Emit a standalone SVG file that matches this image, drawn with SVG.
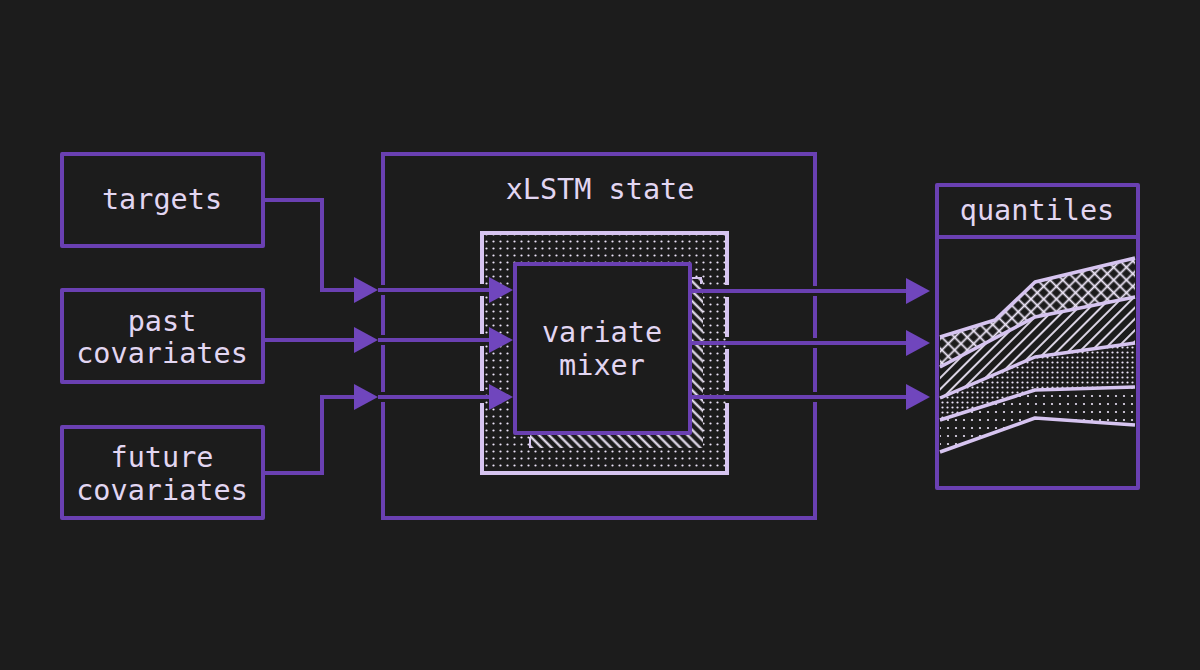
<svg xmlns="http://www.w3.org/2000/svg" width="1200" height="670" viewBox="0 0 1200 670">
<defs>
<style>
.box{fill:#1c1c1c;stroke:#6a40b2;stroke-width:4;stroke-linejoin:round}
.edge{fill:none;stroke:#6a40b2;stroke-width:4;stroke-linecap:butt}
.lav{fill:none;stroke:#d6c4f0;stroke-width:4}
.qline{fill:none;stroke:#d6c4f0;stroke-width:3.5;stroke-linejoin:round}
.conn{fill:none;stroke:#6a40b2;stroke-width:4;stroke-linejoin:miter}
.lbl{font-family:"DejaVu Sans Mono","Liberation Mono",monospace;font-size:28.5px;fill:#e2d6f2;text-anchor:middle}
</style>
<marker id="ah" markerUnits="userSpaceOnUse" viewBox="0 0 24 26" markerWidth="24" markerHeight="26" refX="14" refY="13" orient="auto">
<path d="M0,0 L24,13 L0,26 Z" fill="#7046bd"/>
</marker>
<pattern id="dots" patternUnits="userSpaceOnUse" width="7" height="7">
<rect width="7" height="7" fill="#1c1c1c"/>
<circle cx="3.5" cy="3.5" r="1.1" fill="#ece4f8"/>
</pattern>
<pattern id="dotsDense" patternUnits="userSpaceOnUse" width="5" height="5">
<rect width="5" height="5" fill="#1c1c1c"/>
<circle cx="2.5" cy="2.5" r="1.1" fill="#ece4f8"/>
</pattern>
<pattern id="dotsSparse" patternUnits="userSpaceOnUse" width="8" height="8">
<rect width="8" height="8" fill="#1c1c1c"/>
<circle cx="4" cy="4" r="1.1" fill="#ece4f8"/>
</pattern>
<pattern id="hatchBack" patternUnits="userSpaceOnUse" width="7" height="7" patternTransform="rotate(-45)">
<rect width="7" height="7" fill="#1c1c1c"/>
<line x1="3.5" y1="0" x2="3.5" y2="7" stroke="#f0e8fa" stroke-width="2.2"/>
</pattern>
<pattern id="hatchFwd" patternUnits="userSpaceOnUse" width="8" height="8" patternTransform="rotate(45)">
<rect width="8" height="8" fill="#1c1c1c"/>
<line x1="4" y1="0" x2="4" y2="8" stroke="#f0e8fa" stroke-width="1.8"/>
</pattern>
<pattern id="cross" patternUnits="userSpaceOnUse" width="9" height="9" patternTransform="rotate(45)">
<rect width="9" height="9" fill="#1c1c1c"/>
<line x1="4.5" y1="0" x2="4.5" y2="9" stroke="#f0e8fa" stroke-width="1.8"/>
<line x1="0" y1="4.5" x2="9" y2="4.5" stroke="#f0e8fa" stroke-width="1.8"/>
</pattern>
</defs>
<rect width="1200" height="670" fill="#1c1c1c"/>

<g id="targets">
<rect class="box" x="62" y="154" width="201" height="92"/>
<text class="lbl" x="162" y="209">targets</text>
</g>
<g id="past-covariates">
<rect class="box" x="62" y="290" width="201" height="92"/>
<text class="lbl" x="162" y="331">past</text>
<text class="lbl" x="162" y="363">covariates</text>
</g>
<g id="future-covariates">
<rect class="box" x="62" y="427" width="201" height="91"/>
<text class="lbl" x="162" y="467">future</text>
<text class="lbl" x="162" y="500">covariates</text>
</g>

<g id="xlstm-state">
<path class="edge" d="M381,154 H817 M381,518 H817 M383,152 V285 M383,295 V335 M383,345 V392 M383,402 V520 M815,152 V286 M815,296 V338 M815,348 V392 M815,402 V520"/>
<text class="lbl" x="600" y="199">xLSTM state</text>
<g id="state-inner">
<rect x="482" y="233" width="245" height="240" fill="url(#dots)"/>
<path class="lav" d="M480,233 H729 M480,473 H729 M482,231 V284 M482,296 V334 M482,346 V391 M482,403 V475 M727,231 V285 M727,297 V337 M727,349 V391 M727,403 V475"/>
</g>
</g>

<g id="variate-mixer">
<rect x="530" y="277" width="173" height="171" fill="url(#hatchBack)"/>
<path d="M691,278 H701 V284 M530,437 V448" fill="none" stroke="#d6c4f0" stroke-width="2"/>
<rect class="box" x="515" y="264" width="175" height="169"/>
<text class="lbl" x="602" y="342">variate</text>
<text class="lbl" x="602" y="375">mixer</text>
</g>

<g id="quantiles">
<rect class="box" x="937" y="185" width="201" height="303"/>
<path class="edge" d="M937,237 H1138"/>
<text class="lbl" x="1037" y="220">quantiles</text>
<polygon fill="url(#cross)" points="940,337 995,320 1035,282 1135,258 1135,297 1035,317 940,367"/>
<polygon fill="url(#hatchFwd)" points="940,367 1035,317 1135,297 1135,343 1035,357 940,398"/>
<polygon fill="url(#dotsDense)" points="940,398 1035,357 1135,343 1135,387 1035,390 940,420"/>
<polygon fill="url(#dotsSparse)" points="940,420 1035,390 1135,387 1135,425 1035,418 940,452"/>
<polyline class="qline" points="940,337 995,320 1035,282 1135,258"/>
<polyline class="qline" points="940,367 1035,317 1135,297"/>
<polyline class="qline" points="940,398 1035,357 1135,343"/>
<polyline class="qline" points="940,420 1035,390 1135,387"/>
<polyline class="qline" points="940,452 1035,418 1135,425"/>
</g>

<g id="connectors">
<path class="conn" d="M263,200 H322 V290 H368" marker-end="url(#ah)"/>
<path class="conn" d="M378,290 H503" marker-end="url(#ah)"/>
<path class="conn" d="M263,340 H368" marker-end="url(#ah)"/>
<path class="conn" d="M378,340 H503" marker-end="url(#ah)"/>
<path class="conn" d="M263,473 H322 V397 H368" marker-end="url(#ah)"/>
<path class="conn" d="M378,397 H503" marker-end="url(#ah)"/>
<path class="conn" d="M690,291 H920" marker-end="url(#ah)"/>
<path class="conn" d="M690,343 H920" marker-end="url(#ah)"/>
<path class="conn" d="M690,397 H920" marker-end="url(#ah)"/>
</g>
</svg>
